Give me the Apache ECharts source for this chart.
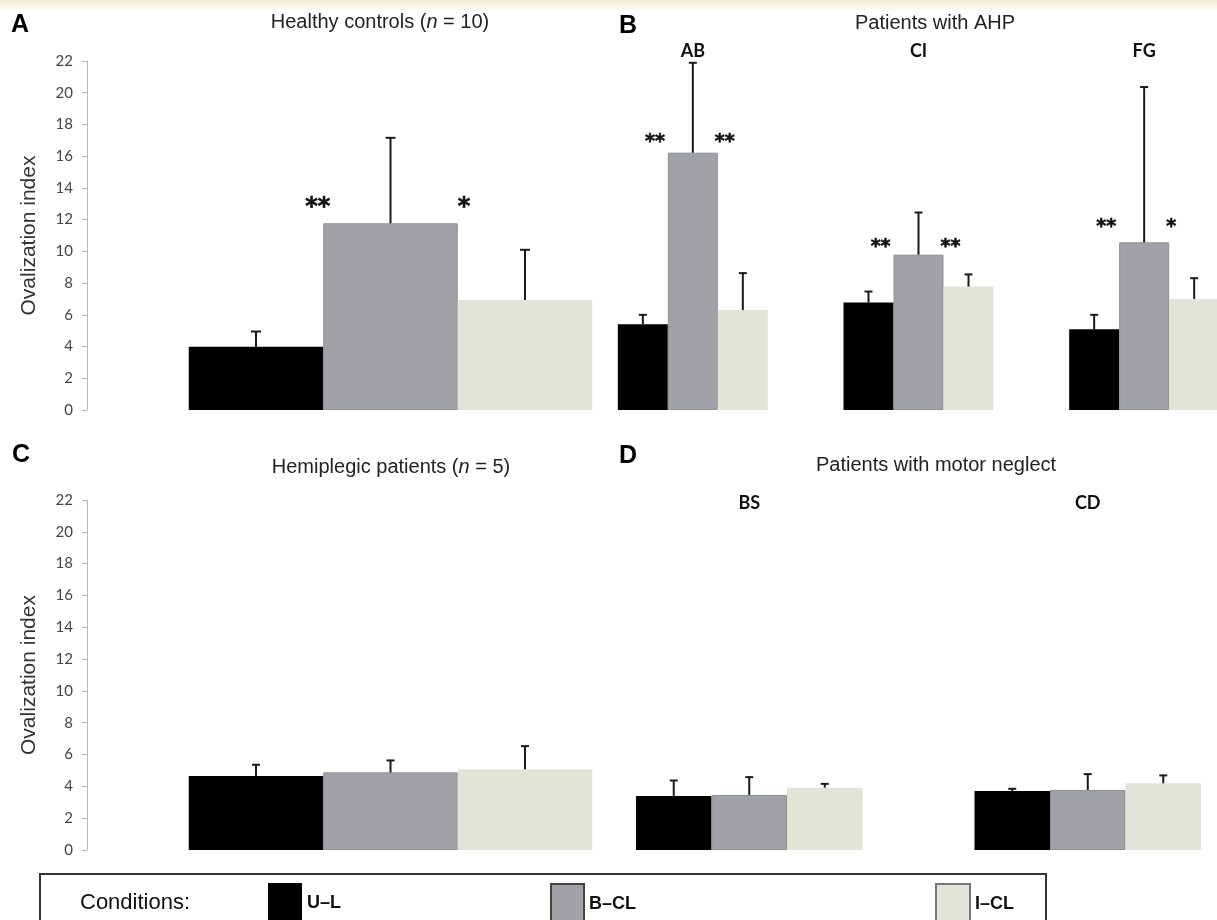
<!DOCTYPE html>
<html>
<head>
<meta charset="utf-8">
<script src="https://cdn.jsdelivr.net/npm/echarts@6.0.0/dist/echarts.min.js"></script>
<style>html,body{margin:0;padding:0;background:#fff}#c{width:1217px;height:920px}</style>
</head>
<body>
<div id="c"></div>
<script>
// ---------- DATA ----------
const conditions = ['U–L', 'B–CL', 'I–CL'];
const yMin = 0, yMax = 22, yStep = 2;

// Panel A – Healthy controls (n = 10)
const catsA = ['Healthy controls'];
const ulA = [3.99],  ulAsd = [0.99];
const bclA = [11.77], bclAsd = [5.42];
const iclA = [6.94], iclAsd = [3.19];
const starsA = [[0, 13.1, '**', -1], [0, 13.1, '*', 1]];

// Panel B – Patients with AHP
const catsB = ['AB', 'CI', 'FG'];
const ulB = [5.40, 6.77, 5.09],   ulBsd = [0.63, 0.73, 0.94];
const bclB = [16.22, 9.79, 10.57], bclBsd = [5.70, 2.69, 9.82];
const iclB = [6.30, 7.78, 7.00],  iclBsd = [2.36, 0.80, 1.34];
const starsB = [[0, 17.15, '**', -1], [0, 17.15, '**', 1],
                [1, 10.53, '**', -1], [1, 10.53, '**', 1],
                [2, 11.80, '**', -1], [2, 11.80, '*', 1]];

// Panel C – Hemiplegic patients (n = 5)
const catsC = ['Hemiplegic patients'];
const ulC = [4.65],  ulCsd = [0.74];
const bclC = [4.88], bclCsd = [0.78];
const iclC = [5.07], iclCsd = [1.49];
const starsC = [];

// Panel D – Patients with motor neglect
const catsD = ['BS', 'CD'];
const ulD = [3.40, 3.71],  ulDsd = [1.00, 0.17];
const bclD = [3.46, 3.77], bclDsd = [1.15, 1.03];
const iclD = [3.92, 4.19], iclDsd = [0.27, 0.53];
const starsD = [];

// ---------- STYLE / LAYOUT ----------
const barColors = ['#000000', '#a0a2a7', '#e3e4d8'];
const panels = [
  {grid: {left: 87, top: 61, width: 607, height: 349}, cats: catsA, vals: [ulA, bclA, iclA], sds: [ulAsd, bclAsd, iclAsd],
   stars: starsA, barW: 134.5, showY: true, topLabels: false, starFont: 24, starPad: [7, 0], cap: 5},
  {grid: {left: 580, top: 61, width: 677, height: 349}, cats: catsB, vals: [ulB, bclB, iclB], sds: [ulBsd, bclBsd, iclBsd],
   stars: starsB, barW: 50, showY: false, topLabels: true, labelMargin: 1, starFont: 19, starPad: [-3, -3], cap: 4},
  {grid: {left: 87, top: 500, width: 607, height: 350}, cats: catsC, vals: [ulC, bclC, iclC], sds: [ulCsd, bclCsd, iclCsd],
   stars: starsC, barW: 134.5, showY: true, topLabels: false, starFont: 20, starPad: [0, 0], cap: 4},
  {grid: {left: 580, top: 500, width: 677, height: 350}, cats: catsD, vals: [ulD, bclD, iclD], sds: [ulDsd, bclDsd, iclDsd],
   stars: starsD, barW: 75.5, showY: false, topLabels: true, labelMargin: -12, starFont: 17, starPad: [0, 0], cap: 4}
];

function errRenderer(barW, cap) {
  return function (params, api) {
    const cat = api.value(0), m = api.value(1), sd = api.value(2), k = api.value(3);
    const base = api.coord([cat, m]);
    const top = api.coord([cat, m + sd]);
    const x = base[0] + (k - 1) * barW;
    const st = {stroke: '#1a1a1a', lineWidth: 2};
    return {type: 'group', children: [
      {type: 'line', shape: {x1: x, y1: base[1], x2: x, y2: top[1]}, style: st},
      {type: 'line', shape: {x1: x - cap, y1: top[1] + 0.5, x2: x + cap, y2: top[1] + 0.5}, style: st}
    ]};
  };
}
function starRenderer(stars, barW, font, pad) {
  return function (params, api) {
    const s = stars[params.dataIndex];
    const p = api.coord([api.value(0), api.value(1)]);
    const side = s[3];
    const x = p[0] + side * barW / 2 + (side < 0 ? pad[0] : pad[1]);
    return {type: 'text', x: x, y: p[1] + font * 0.22, style: {
      text: s[2], align: side < 0 ? 'right' : 'left', verticalAlign: 'middle',
      font: 'bold ' + font + 'px "DejaVu Sans"', fill: '#111', stroke: '#111', lineWidth: 0.6}};
  };
}

const grids = [], xAxes = [], yAxes = [], series = [];
panels.forEach((p, i) => {
  grids.push(Object.assign({outerBoundsMode: 'none', containLabel: false}, p.grid));
  xAxes.push({
    type: 'category', gridIndex: i, data: p.cats, position: p.topLabels ? 'top' : 'bottom',
    axisLine: {show: false}, axisTick: {show: false}, splitLine: {show: false},
    axisLabel: {show: p.topLabels, margin: p.labelMargin || 0, fontFamily: 'Lato', fontWeight: 'bold', fontSize: 18, color: '#111'}
  });
  yAxes.push({
    type: 'value', gridIndex: i, min: yMin, max: yMax, interval: yStep, show: p.showY,
    name: p.showY ? 'Ovalization index' : '', nameLocation: 'middle', nameGap: 47,
    nameTextStyle: {fontFamily: 'Liberation Sans', fontSize: 21, color: '#333'},
    axisLine: {show: true, lineStyle: {color: '#b8b8b8', width: 1}},
    axisTick: {show: true, length: 5, lineStyle: {color: '#b8b8b8'}},
    axisLabel: {margin: 14, fontFamily: 'Lato', fontSize: 15, color: '#444'},
    splitLine: {show: false}
  });
  conditions.forEach((c, k) => {
    series.push({
      type: 'bar', name: c, xAxisIndex: i, yAxisIndex: i, data: p.vals[k],
      barWidth: p.barW, barGap: '0%', z: 2, silent: true,
      itemStyle: k === 1 ? {color: barColors[k], borderColor: '#8d8e93', borderWidth: 1} : {color: barColors[k]}
    });
  });
  const errData = [];
  conditions.forEach((c, k) => p.vals[k].forEach((v, j) => errData.push([j, v, p.sds[k][j], k])));
  series.push({type: 'custom', xAxisIndex: i, yAxisIndex: i, data: errData, z: 3, silent: true,
    renderItem: errRenderer(p.barW, p.cap)});
  if (p.stars.length) {
    series.push({type: 'custom', xAxisIndex: i, yAxisIndex: i, data: p.stars.map(s => [s[0], s[1]]), z: 4, silent: true,
      renderItem: starRenderer(p.stars, p.barW, p.starFont, p.starPad)});
  }
});

const letterStyle = {fontFamily: 'Liberation Sans', fontWeight: 'bold', fontSize: 25, color: '#000'};
const titleStyle = {fontFamily: 'Liberation Sans', fontWeight: 'normal', fontSize: 20, color: '#222',
  rich: {r: {fontFamily: 'Liberation Sans', fontSize: 20, color: '#222'},
         i: {fontFamily: 'Liberation Sans', fontSize: 20, color: '#222', fontStyle: 'italic'}}};
function mkTitle(text, x, y, style) {
  return {text: text, left: x, top: y, padding: 0, textAlign: 'center', textVerticalAlign: 'middle', textStyle: style};
}

const legendX = [268, 550, 935];
const legendIcon = [{}, {borderColor: '#444', borderWidth: 2}, {borderColor: '#777', borderWidth: 2}];
const legends = conditions.map((c, i) => ({
  data: [c], left: legendX[i], top: 883, padding: 0, icon: 'rect', itemWidth: i === 1 ? 33 : 34, itemHeight: 40,
  selectedMode: false, itemStyle: legendIcon[i],
  textStyle: {fontFamily: 'Liberation Sans', fontWeight: 'bold', fontSize: 18, color: '#111', padding: [6, 0, 0, 0]}
}));

const chart = echarts.init(document.getElementById('c'), null, {renderer: 'canvas'});
chart.setOption({
  animation: false,
  backgroundColor: '#ffffff',
  title: [
    mkTitle('A', 20, 25, letterStyle),
    mkTitle('B', 628, 26, letterStyle),
    mkTitle('C', 21, 455, letterStyle),
    mkTitle('D', 628, 456, letterStyle),
    mkTitle('{r|Healthy controls (}{i|n}{r| = 10)}', 380, 22, titleStyle),
    mkTitle('Patients with AHP', 935, 23, titleStyle),
    mkTitle('{r|Hemiplegic patients (}{i|n}{r| = 5)}', 391, 467, titleStyle),
    mkTitle('Patients with motor neglect', 936, 465, titleStyle)
  ],
  legend: legends,
  grid: grids,
  xAxis: xAxes,
  yAxis: yAxes,
  series: series,
  graphic: [
    {type: 'rect', left: 0, top: 0, shape: {width: 1217, height: 10}, silent: true,
     style: {fill: new echarts.graphic.LinearGradient(0, 0, 0, 1, [{offset: 0, color: '#f0eed5'}, {offset: 1, color: '#fcfbf3'}])}},
    {type: 'rect', shape: {x: 40, y: 874, width: 1006, height: 80}, silent: true,
     style: {fill: 'none', stroke: '#333', lineWidth: 2}},
    {type: 'text', x: 80, y: 903, silent: true,
     style: {text: 'Conditions:', font: '22px "Liberation Sans"', fill: '#111', verticalAlign: 'middle'}}
  ]
});
</script>
</body>
</html>
